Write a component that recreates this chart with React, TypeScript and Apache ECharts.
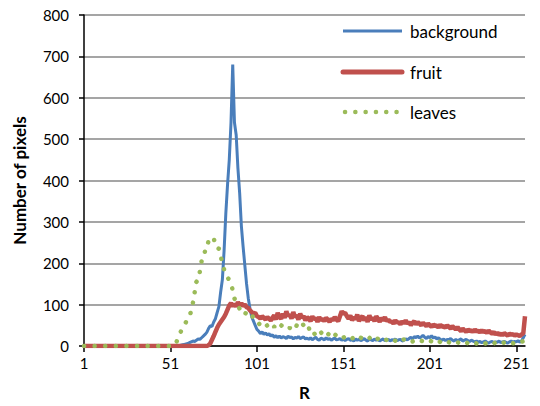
import React, { useEffect, useRef } from "react";
import * as echarts from "echarts";

const categories: string[] = [];
for (let i = 1; i <= 256; i++) categories.push(String(i));

const yTicks = [0, 100, 200, 300, 400, 500, 600, 700, 800];

const background = [
  0,0,0,0,0,0,0,0,0,0, 0,0,0,0,0,0,0,0,0,0, 0,0,0,0,0,0,0,0,0,0, 0,0,0,0,0,0,0,0,0,0, 0,0,0,0,0,0,0,0,0,0, 0,0,0,0,0,
  1,2,3,4,5,6,8,10,12,11, 14,17,16,20,24,28,33,42,49,47, 58,66,81,95,
  130,160,230,320,390, 450,540,680,540,510, 430,370,290,240,195, 150,115,90,70,60, 50,
  40,36,30,34,28,32,26,30,24,27, 21,25,20,24,19,23,21,18,24,20, 22,17,21,19,23,18,20,22,17,19,
  16,20,15,18,21,16,14,19,17,15, 20,16,18,14,17,19,15,16,18,
  14,17,13,16,18,14,15,12,17,14, 16,13,15,18,14,12,16,15,13,17, 14,16,12,15,17,13,14,16,12,15, 14,17,13,15,16,12,14,17,15,
  18,21,17,23,20,24,19,22,26,21, 18,23,20,25,19,22,17,20,16,
  14,17,13,16,15,18,14,12,16,13, 15,17,12,14,16,13,11,14,12,
  10,12,9,11,8,10,12,9,7,10, 11,8,10,9,12,8,10,11,9,7, 10,12,9,11,10,13,9,12,20,28,
];

const fruit = [
  0,0,0,0,0,0,0,0,0,0, 0,0,0,0,0,0,0,0,0,0, 0,0,0,0,0,0,0,0,0,0, 0,0,0,0,0,0,0,0,0,0, 0,0,0,0,0,0,0,0,0,0, 0,0,0,0,0,0,0,0,0,0, 0,0,0,0,0,0,0,0,0,0, 0,0,
  2,6,15,24,34,44,52,58,64,70, 78,88,98,104,96,102,95,106,99,103, 97,100,94,92,86,82,78,80,
  72,70,66,72,68,64,70,66,62,68, 74,64,80,70,66,78,68,84,72,76, 66,82,70,74,64,78,68,72,62,70,
  66,60,72,64,68,58,70,62,66,60, 68,64,58,66,62,70,64,60,72,
  84,78,80,72,
  66,74,62,70,64,76,60,68,72,62, 70,58,74,64,68,60,72,66,58,68, 62,70,60,64,58,
  60,54,62,56,58,52,60,55,62,54, 58,50,56,60,52,58,54,50,56,
  52,48,54,50,46,52,48,50,44,52, 46,48,44,50,46,42,48,44,40,46,
  40,36,42,38,34,40,36,38,34,40, 35,37,33,38,34,36,32,37,33,
  30,34,28,32,27,30,26,31,28,25, 30,27,29,25,28,26,24,28,30,72,
];

const leaves = [
  0,0,0,0,0,0,0,0,0,0, 0,0,0,0,0,0,0,0,0,0, 0,0,0,0,0,0,0,0,0,0, 0,0,0,0,0,0,0,0,0,0, 0,0,0,0,0,0,0,0,0,0, 0,0,0,
  5,15,25,35,45,50,58,62,72,85, 105,130,155,160,180,205,210,230,232,255, 258,262,262,240,238,235,218,200,185,175, 165,160,150,135,115,105,97,90,82,76, 80,78,82,74,70,72,68,
  62,55,50,48,52,47,50,54,48,51, 46,52,49,45,50,47,43,45,41,44, 40,45,42,50,53,48,55,50,46,52, 44,
  30,27,31,26,29,25,33,28,24,30, 27,32,26,23,28,25,22,26,
  24,20,23,19,22,20,18,21,17,19, 16,20,18,15,19,17,20,16,18,14, 19,17,15,18,16,19,14,17,15,18, 16,13,17,15,18,14,16,13,15,
  12,14,11,13,15,12,10,13,11,14, 12,10,13,11,9,12,10,13,9,11, 8,10,12,9,7,10,8,11,9,7, 10,8,11,9,6,9,7,10,8,6, 9,7,10,8,6,9,7,5,8,6, 9,7,5,8,6,9,7,5,8,6, 7,5,8,6,9,10,12,14,
];

const seriesNames = ["background", "fruit", "leaves"];
const colors = ["#4a7ebb", "#c0504d", "#9bbb59"];
const FONT = "Lato, 'Open Sans', sans-serif";

export default function App() {
  const ref = useRef<HTMLDivElement>(null);
  useEffect(() => {
    if (!ref.current) return;
    const chart = echarts.init(ref.current, null, { renderer: "svg" });
    const legendY = [31, 72, 112];
    const legendStyles = [
      { lineWidth: 3 },
      { lineWidth: 5, lineCap: "round" },
      { lineWidth: 4.5, lineCap: "round", lineDash: [0.1, 10.2] },
    ];
    const legendGraphics: any[] = [];
    seriesNames.forEach((name, k) => {
      legendGraphics.push({
        type: "line",
        shape: { x1: k === 2 ? 345 : 343, y1: legendY[k], x2: k === 2 ? 397 : 402, y2: legendY[k] },
        style: { stroke: colors[k], ...legendStyles[k] },
        z: 10,
      });
      legendGraphics.push({
        type: "text",
        x: 410,
        y: legendY[k],
        style: { text: name, fill: "#000", font: `17px ${FONT}`, verticalAlign: "middle", align: "left" },
        z: 10,
      });
    });
    chart.setOption({
      animation: false,
      backgroundColor: "#fff",
      textStyle: { fontFamily: FONT },
      grid: { left: 84, right: 15, top: 15, bottom: 59, containLabel: false },
      graphic: legendGraphics,
      xAxis: {
        type: "category",
        data: categories,
        boundaryGap: false,
        name: "R",
        nameLocation: "middle",
        nameGap: 38,
        nameTextStyle: { fontSize: 17, fontWeight: "bold", color: "#000", fontFamily: FONT },
        axisLine: { lineStyle: { color: "#000", width: 1.5 } },
        axisTick: { interval: 49, length: 6, lineStyle: { color: "#000", width: 1.5 } },
        axisLabel: { interval: 49, fontSize: 15, color: "#000", margin: 9, fontFamily: FONT },
        splitLine: { show: false },
      },
      yAxis: {
        type: "value",
        min: yTicks[0],
        max: yTicks[yTicks.length - 1],
        interval: 100,
        name: "Number of pixels",
        nameLocation: "middle",
        nameRotate: 90,
        nameGap: 56,
        nameTextStyle: { fontSize: 17, fontWeight: "bold", color: "#000", fontFamily: FONT },
        axisLine: { show: true, lineStyle: { color: "#000", width: 1.5 } },
        axisTick: { show: true, length: 5, lineStyle: { color: "#000", width: 1.5 } },
        axisLabel: { fontSize: 15, color: "#000", margin: 15, fontFamily: FONT },
        splitLine: { lineStyle: { color: "#878787", width: 1.5 } },
      },
      series: [
        {
          name: seriesNames[0],
          type: "line",
          data: background,
          symbol: "none",
          lineStyle: { color: colors[0], width: 3 },
          itemStyle: { color: colors[0] },
        },
        {
          name: seriesNames[1],
          type: "line",
          data: fruit,
          symbol: "none",
          lineStyle: { color: colors[1], width: 4.5 },
          itemStyle: { color: colors[1] },
        },
        {
          name: seriesNames[2],
          type: "line",
          data: leaves,
          symbol: "none",
          lineStyle: { color: colors[2], width: 4.5, type: [0.1, 10.5], cap: "round" },
          itemStyle: { color: colors[2] },
        },
      ],
    });
    return () => chart.dispose();
  }, []);
  return <div ref={ref} style={{ width: 540, height: 406, position: "absolute", left: 0, top: 0 }} />;
}
